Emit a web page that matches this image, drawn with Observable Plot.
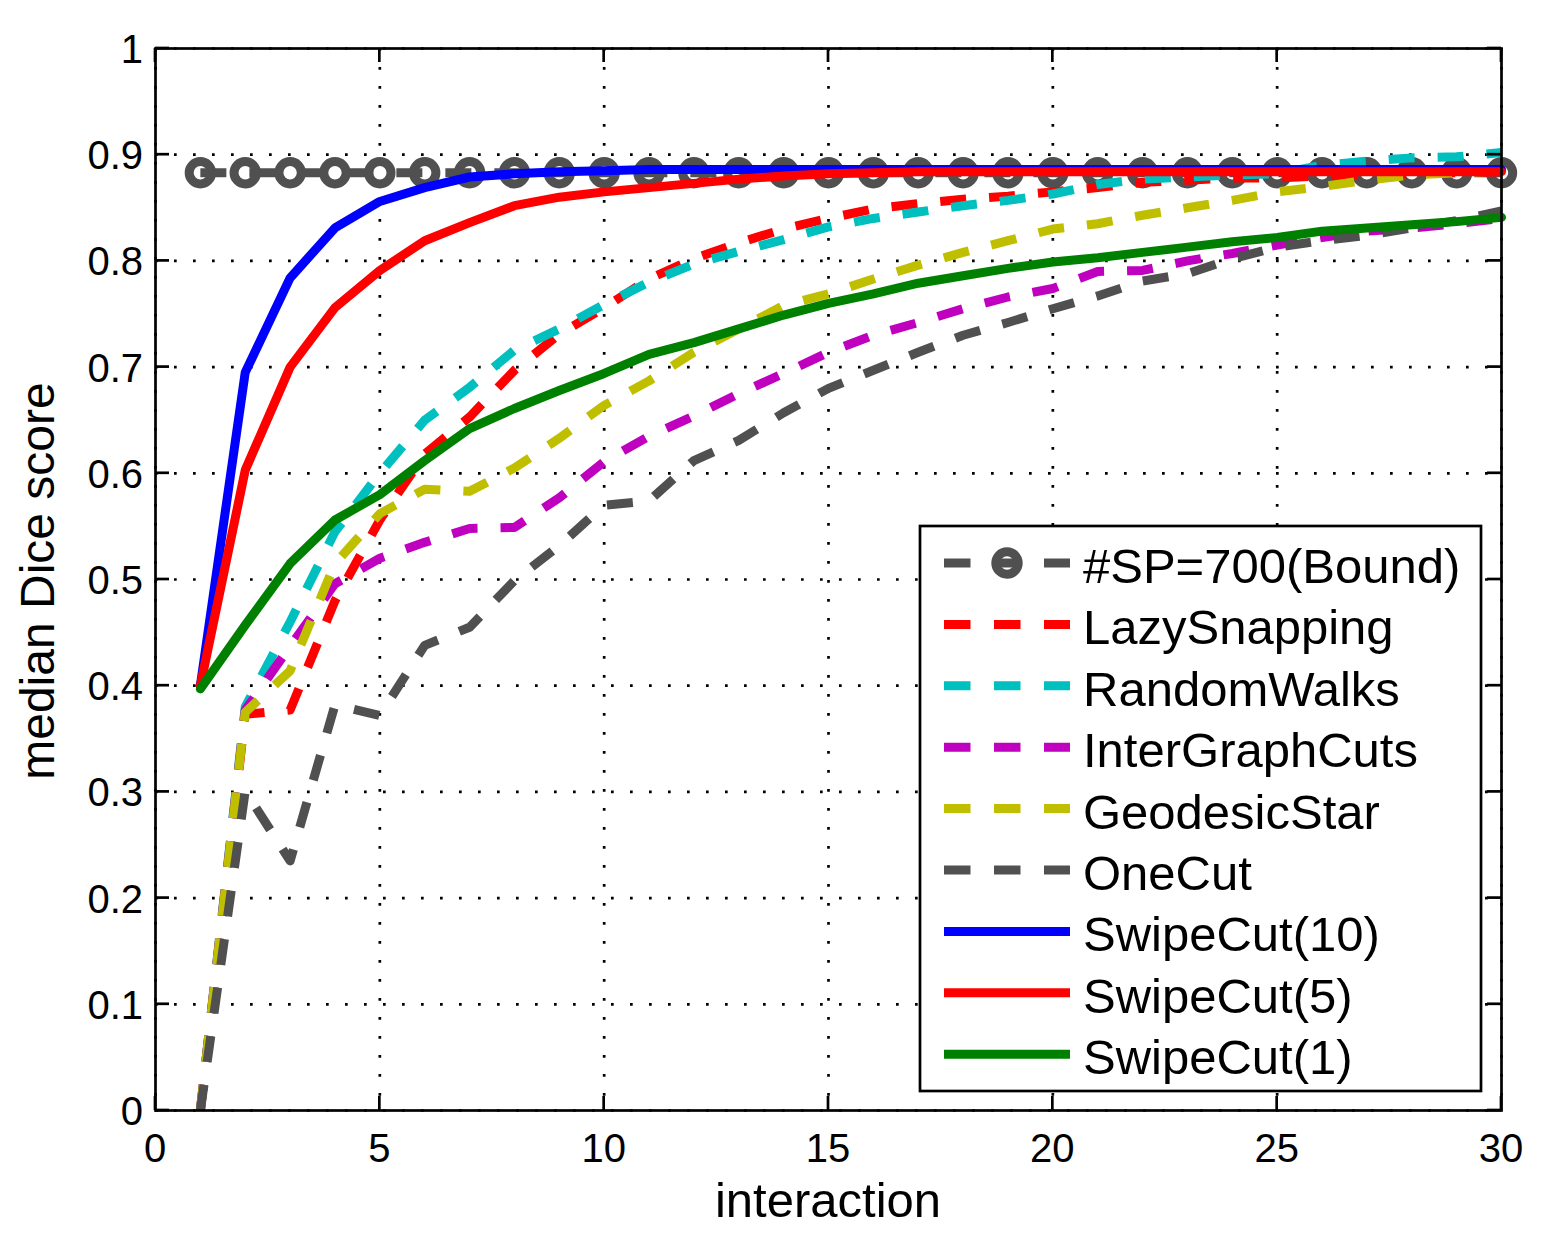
<!DOCTYPE html>
<html>
<head>
<meta charset="utf-8">
<script src="https://cdn.jsdelivr.net/npm/d3@7"></script>
<script src="https://cdn.jsdelivr.net/npm/@observablehq/plot@0.6"></script>
<style>
  html, body { margin: 0; padding: 0; background: #fff; }
  #chart svg { display: block; }
</style>
</head>
<body>
<div id="chart"></div>
<script>
// ---- data ----
const interaction = [1,2,3,4,5,6,7,8,9,10,11,12,13,14,15,16,17,18,19,20,21,22,23,24,25,26,27,28,29,30];

const bound = [0.883,0.883,0.883,0.883,0.883,0.883,0.883,0.883,0.883,0.883,0.883,0.883,0.883,0.883,0.883,
               0.883,0.883,0.883,0.883,0.883,0.883,0.883,0.883,0.883,0.883,0.883,0.883,0.883,0.883,0.883];
const lazySnapping = [0,0.373,0.377,0.480,0.556,0.618,0.653,0.697,0.731,0.756,0.783,0.802,0.817,0.830,0.840,
                      0.849,0.854,0.858,0.861,0.865,0.869,0.874,0.876,0.878,0.878,0.880,0.881,0.882,0.883,0.884];
const randomWalks = [0,0.380,0.460,0.545,0.600,0.650,0.681,0.716,0.736,0.759,0.780,0.797,0.809,0.820,0.832,
                     0.840,0.846,0.852,0.857,0.863,0.872,0.877,0.879,0.881,0.882,0.890,0.894,0.897,0.898,0.902];
const interGraphCuts = [0,0.377,0.437,0.496,0.520,0.535,0.548,0.549,0.577,0.611,0.635,0.654,0.675,0.694,0.714,
                        0.730,0.742,0.755,0.766,0.774,0.790,0.791,0.800,0.807,0.815,0.822,0.828,0.831,0.835,0.840];
const geodesicStar = [0,0.375,0.414,0.515,0.562,0.585,0.583,0.605,0.633,0.664,0.687,0.714,0.736,0.758,0.769,
                      0.783,0.796,0.808,0.819,0.830,0.835,0.843,0.850,0.857,0.865,0.870,0.876,0.881,0.883,0.885];
const oneCut = [0,0.301,0.235,0.382,0.372,0.438,0.455,0.499,0.532,0.570,0.574,0.612,0.631,0.657,0.680,
                0.697,0.714,0.730,0.742,0.755,0.767,0.781,0.788,0.802,0.813,0.819,0.824,0.831,0.838,0.847];
const swipeCut10 = [0.400,0.695,0.784,0.831,0.856,0.869,0.879,0.882,0.884,0.885,0.886,0.886,0.886,0.886,0.886,
                    0.886,0.886,0.886,0.886,0.886,0.886,0.886,0.886,0.886,0.886,0.886,0.886,0.886,0.886,0.886];
const swipeCut5 = [0.400,0.603,0.700,0.756,0.791,0.819,0.836,0.852,0.860,0.865,0.869,0.873,0.877,0.880,0.882,
                   0.883,0.884,0.884,0.884,0.884,0.884,0.884,0.884,0.884,0.884,0.884,0.884,0.884,0.884,0.884];
const swipeCut1 = [0.397,0.457,0.515,0.556,0.580,0.612,0.642,0.661,0.678,0.694,0.712,0.723,0.736,0.749,0.760,
                   0.769,0.779,0.786,0.793,0.799,0.803,0.808,0.813,0.818,0.822,0.828,0.831,0.834,0.837,0.841];

const seriesNames = ["#SP=700(Bound)","LazySnapping","RandomWalks","InterGraphCuts","GeodesicStar","OneCut","SwipeCut(10)","SwipeCut(5)","SwipeCut(1)"];
const seriesValues = [bound, lazySnapping, randomWalks, interGraphCuts, geodesicStar, oneCut, swipeCut10, swipeCut5, swipeCut1];
const seriesColors = ["#505050","#ff0000","#00bfbf","#bf00bf","#bfbf00","#505050","#0000ff","#ff0000","#008000"];
const seriesDashed = [true,true,true,true,true,true,false,false,false];

const xTicks = [0,5,10,15,20,25,30];
const yTicks = [0,0.1,0.2,0.3,0.4,0.5,0.6,0.7,0.8,0.9,1];
const yTickLabels = ["0","0.1","0.2","0.3","0.4","0.5","0.6","0.7","0.8","0.9","1"];
const xLabel = "interaction";
const yLabel = "median Dice score";

// ---- styles ----
const FONT = "'Liberation Sans', Arial, Helvetica, sans-serif";
const LW = 9;
const DASH = "26,23";

const lineMarks = [];
seriesNames.forEach((name, k) => {
  const vals = seriesValues[k];
  lineMarks.push(Plot.line(interaction, {
    x: d => d,
    y: (d, i) => vals[i],
    stroke: seriesColors[k],
    strokeWidth: LW,
    strokeDasharray: seriesDashed[k] ? DASH : null,
    strokeLinecap: seriesDashed[k] ? "butt" : "round",
    strokeLinejoin: "round"
  }));
  if (k === 0) {
    lineMarks.push(Plot.dot(interaction, {
      x: d => d,
      y: (d, i) => vals[i],
      r: 11.2,
      stroke: seriesColors[k],
      strokeWidth: 9,
      fill: "none"
    }));
  }
});

const plot = Plot.plot({
  width: 1550,
  height: 1238,
  marginLeft: 155,
  marginRight: 49,
  marginTop: 48,
  marginBottom: 128,
  style: { background: "#fff", fontFamily: FONT },
  x: { domain: [0, 30], axis: null },
  y: { domain: [0, 1], axis: null },
  marks: [
    Plot.gridX(xTicks, { stroke: "black", strokeOpacity: 1, strokeWidth: 2.7, strokeDasharray: "2.7,16.3" }),
    Plot.gridY(yTicks, { stroke: "black", strokeOpacity: 1, strokeWidth: 2.7, strokeDasharray: "2.7,16.3" }),
    ...lineMarks,
    Plot.frame({ stroke: "black", strokeWidth: 2.7 })
  ]
});

document.getElementById("chart").appendChild(plot);

// ---- axes, labels and legend drawn with the plot's scales ----
const sx = plot.scale("x");
const sy = plot.scale("y");
const X0 = sx.apply(0), X1 = sx.apply(30), Y0 = sy.apply(0), Y1 = sy.apply(1);
const svg = d3.select(plot);
const g = svg.append("g").attr("font-family", FONT).attr("fill", "black");
const TL = 14;

xTicks.forEach(t => {
  const px = sx.apply(t);
  g.append("line").attr("x1", px).attr("x2", px).attr("y1", Y0).attr("y2", Y0 - TL)
    .attr("stroke", "black").attr("stroke-width", 2.7);
  g.append("line").attr("x1", px).attr("x2", px).attr("y1", Y1).attr("y2", Y1 + TL)
    .attr("stroke", "black").attr("stroke-width", 2.7);
  g.append("text").attr("x", px).attr("y", Y0 + 52).attr("text-anchor", "middle")
    .attr("font-size", 40).text(String(t));
});
yTicks.forEach((t, i) => {
  const py = sy.apply(t);
  g.append("line").attr("x1", X0).attr("x2", X0 + TL).attr("y1", py).attr("y2", py)
    .attr("stroke", "black").attr("stroke-width", 2.7);
  g.append("line").attr("x1", X1).attr("x2", X1 - TL).attr("y1", py).attr("y2", py)
    .attr("stroke", "black").attr("stroke-width", 2.7);
  g.append("text").attr("x", X0 - 12).attr("y", py + 15).attr("text-anchor", "end")
    .attr("font-size", 40).text(yTickLabels[i]);
});

g.append("text").attr("x", (X0 + X1) / 2).attr("y", 1217).attr("text-anchor", "middle")
  .attr("font-size", 49).text(xLabel);
g.append("text").attr("transform", `translate(54,${(Y0 + Y1) / 2 + 2}) rotate(-90)`)
  .attr("text-anchor", "middle").attr("font-size", 48).text(yLabel);

// legend
const lg = svg.append("g").attr("font-family", FONT);
lg.append("rect").attr("x", 920).attr("y", 526).attr("width", 561).attr("height", 565)
  .attr("fill", "white").attr("stroke", "black").attr("stroke-width", 2.7);
seriesNames.forEach((name, k) => {
  const ry = 563 + k * 61.4;
  lg.append("line").attr("x1", 944).attr("x2", 1070).attr("y1", ry).attr("y2", ry)
    .attr("stroke", seriesColors[k]).attr("stroke-width", LW)
    .attr("stroke-dasharray", seriesDashed[k] ? "26.5,23.5" : null)
    .attr("stroke-linecap", "butt");
  if (k === 0) {
    lg.append("circle").attr("cx", 1007).attr("cy", ry).attr("r", 11.2)
      .attr("fill", "none").attr("stroke", seriesColors[k]).attr("stroke-width", 9);
    lg.append("line").attr("x1", 1000).attr("x2", 1014).attr("y1", ry).attr("y2", ry)
      .attr("stroke", seriesColors[k]).attr("stroke-width", 3);
  }
  lg.append("text").attr("x", 1083).attr("y", ry + 20).attr("font-size", 49)
    .attr("text-anchor", "start").attr("fill", "black").text(name);
});
</script>
</body>
</html>
